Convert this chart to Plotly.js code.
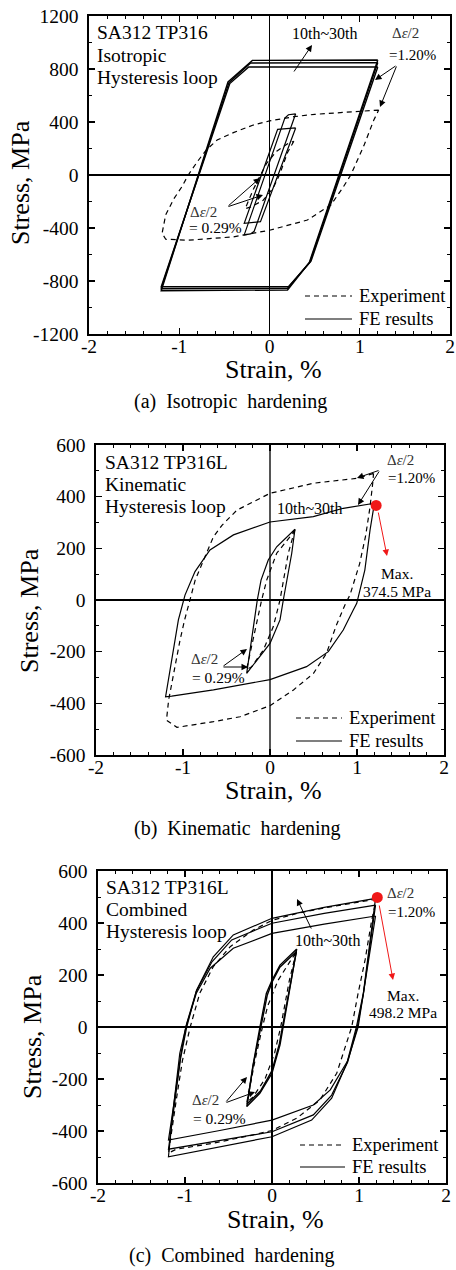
<!DOCTYPE html>
<html><head><meta charset="utf-8">
<script src="https://cdn.plot.ly/plotly-3.0.1.min.js"></script>
<style>html,body{margin:0;padding:0;background:#fff;}#chart{width:456px;height:1270px;}</style>
</head><body><div id="chart"></div>
<script>
// ---------- tick labels ----------
const strainTicks = [-2, -1, 0, 1, 2];
const strainTickText = ['-2', '-1', '0', '1', '2'];
const isoStressTicks = [-1200, -800, -400, 0, 400, 800, 1200];
const isoStressTickText = ['-1200', '-800', '-400', '0', '400', '800', '1200'];
const kinStressTicks = [-600, -400, -200, 0, 200, 400, 600];
const kinStressTickText = ['-600', '-400', '-200', '0', '200', '400', '600'];

// ---------- (a) Isotropic hardening ----------
const isoExpStrain = [1.21, 0.9, 0.5, 0.27, 0, -0.18, -0.4, -0.58, -0.7, -0.8, -0.9, -0.97, -1.06, -1.15, -1.19, -1.15, -0.9, -0.4, 0, 0.42, 0.68, 0.82, 0.9, 1.045, 1.156, 1.21];
const isoExpStress = [490, 478, 458, 440, 408, 377, 320, 264, 190, 100, 0, -88, -180, -300, -440, -485, -492, -467, -417, -340, -226, -88, 0, 220, 415, 490];
const isoExpSmallStrain = [0.27, 0.2, 0.11, 0.04, -0.07, -0.2, -0.27, -0.18, -0.1, -0.03, 0.08, 0.2, 0.27];
const isoExpSmallStress = [255, 170, 0, -100, -190, -240, -255, -110, 0, 90, 180, 235, 255];
const isoFE1Strain = [1.2, 0.46, 0.21, -1.2, -0.44, -0.23, 1.2];
const isoFE1Stress = [815, -650, -843, -843, 690, 815, 815];
const isoFE2Strain = [1.2, 0.45, 0.2, -1.2, -0.45, -0.21, 1.2];
const isoFE2Stress = [848, -655, -855, -858, 696, 845, 848];
const isoFE3Strain = [1.2, 0.44, 0.2, -1.2, -0.46, -0.19, 1.2];
const isoFE3Stress = [868, -662, -868, -873, 702, 865, 868];
const isoFESmall1Strain = [0.29, -0.17, -0.21, -0.28, 0.17, 0.21, 0.29];
const isoFESmall1Stress = [462, -425, -445, -452, 430, 455, 462];
const isoFESmall2Strain = [0.29, -0.1, -0.28, 0.09, 0.29];
const isoFESmall2Stress = [355, -352, -365, 345, 355];

// ---------- (b) Kinematic hardening ----------
const kinExpStrain = [1.19, 1.0, 0.5, 0, -0.38, -0.55, -0.65, -0.75, -0.86, -0.92, -0.98, -1.034, -1.11, -1.165, -1.19, -1.07, -0.65, -0.345, 0, 0.27, 0.5, 0.65, 0.76, 0.86, 0.92, 1.03, 1.1, 1.15, 1.18, 1.19];
const kinExpStress = [490, 471, 452, 413, 348, 290, 245, 168, 77, 0, -75, -155, -284, -387, -465, -493, -471, -452, -409, -348, -284, -206, -100, -20, 20, 140, 250, 361, 450, 490];
const kinExpSmallStrain = [0.287, 0.21, 0.115, 0.038, -0.077, -0.21, -0.27, -0.172, -0.096, -0.038, 0.077, 0.23, 0.287];
const kinExpSmallStress = [273, 181, 0, -103, -194, -258, -270, -116, 0, 77, 181, 245, 273];
const kinFEStrain = [1.2, 0.842, 0.498, 0, -0.42, -0.69, -0.862, -0.977, -1.053, -1.11, -1.2, -1.13, -0.65, 0, 0.42, 0.67, 0.842, 0.957, 0.997, 1.09, 1.15, 1.2];
const kinFEStress = [374.5, 355, 323, 302, 252, 194, 110, 19, -77, -194, -374.5, -372, -348, -308, -258, -200, -116, -39, -13, 116, 271, 374.5];
const kinFESmallStrain = [0.287, 0.25, 0.153, 0.115, 0, -0.153, -0.268, -0.146, -0.103, -0.02, 0.077, 0.287];
const kinFESmallStress = [274, 181, 0, -77, -168, -232, -284, 0, 77, 155, 206, 274];
const kinMaxStrain = [1.22];
const kinMaxStress = [366];

// ---------- (c) Combined hardening ----------
const comExpStrain = [1.2, 0.6, 0.3, 0, -0.215, -0.48, -0.675, -0.83, -0.94, -1.03, -1.1, -1.16, -1.19, -1.1, -0.675, -0.215, 0, 0.284, 0.55, 0.744, 0.85, 0.916, 0.99, 1.07, 1.146, 1.2];
const comExpStress = [492, 458, 438, 410, 373, 309, 232, 130, 0, -130, -280, -420, -485, -470, -447, -415, -398, -351, -281, -178, -70, 0, 130, 258, 411, 492];
const comExpSmallStrain = [0.28, 0.2, 0.1, 0.03, -0.08, -0.22, -0.29, -0.19, -0.11, -0.05, 0.07, 0.22, 0.28];
const comExpSmallStress = [290, 180, 0, -100, -200, -270, -290, -120, 0, 80, 180, 260, 290];
const comFE1Strain = [1.19, 1.13, 1.05, 0.99, 0.87, 0.67, 0.475, 0, -0.6, -1.19, -1.13, -1.05, -0.99, -0.87, -0.71, -0.445, 0, 0.6, 1.19];
const comFE1Stress = [427, 300, 120, 0, -130, -242, -300, -358, -398, -435, -300, -110, 0, 130, 226, 303, 360, 396, 427];
const comFE2Strain = [1.19, 1.13, 1.05, 0.98, 0.87, 0.686, 0.475, 0, -0.6, -1.19, -1.13, -1.05, -0.98, -0.87, -0.69, -0.463, 0, 0.6, 1.19];
const comFE2Stress = [469, 320, 125, 0, -135, -262, -338, -403, -438, -470, -320, -120, 0, 138, 251, 335, 399, 437, 469];
const comFE3Strain = [1.19, 1.13, 1.05, 0.97, 0.86, 0.686, 0.456, 0, -0.6, -1.19, -1.14, -1.06, -0.98, -0.866, -0.675, -0.445, 0, 0.6, 1.19];
const comFE3Stress = [495, 330, 130, 0, -140, -274, -358, -422, -462, -499, -330, -101, 14, 142, 270, 354, 418, 460, 495];
const comFESmall1Strain = [0.284, 0.2, 0.169, 0.13, 0.092, 0, -0.14, -0.29, -0.22, -0.138, -0.1, -0.065, 0, 0.092, 0.284];
const comFESmall1Stress = [300, 142, 85, 0, -69, -178, -255, -306, -150, 0, 65, 129, 180, 238, 300];
const comFESmall2Strain = [0.28, 0.19, 0.16, 0.12, 0.085, 0, -0.13, -0.285, -0.215, -0.13, -0.09, -0.055, 0, 0.09, 0.28];
const comFESmall2Stress = [290, 135, 80, 0, -64, -168, -245, -296, -145, 0, 62, 122, 172, 230, 290];
const comMaxStrain = [1.21];
const comMaxStress = [498.2];

// ---------- build ----------
const F = '"Liberation Serif", "Times New Roman", serif';
const W = 456, H = 1270;
const px = v => v / W, py = v => 1 - v / H;
const DASH = '5px,4px';

function line(x, y, n, dash, w) {
  return {x, y, xaxis: 'x' + n, yaxis: 'y' + n, type: 'scatter', mode: 'lines',
    line: {color: '#000', width: w || 1.2, dash: dash ? DASH : 'solid'}, hoverinfo: 'skip', showlegend: false};
}
function dot(x, y, n) {
  return {x, y, xaxis: 'x' + n, yaxis: 'y' + n, type: 'scatter', mode: 'markers',
    marker: {color: '#f01818', size: 11}, hoverinfo: 'skip', showlegend: false};
}
const traces = [
  line(isoExpStrain, isoExpStress, '', true),
  line(isoExpSmallStrain, isoExpSmallStress, '', true),
  line(isoFE1Strain, isoFE1Stress, '', false, 1.4),
  line(isoFE2Strain, isoFE2Stress, '', false, 1.4),
  line(isoFE3Strain, isoFE3Stress, '', false, 1.4),
  line(isoFESmall1Strain, isoFESmall1Stress, '', false),
  line(isoFESmall2Strain, isoFESmall2Stress, '', false),
  line(kinExpStrain, kinExpStress, '2', true),
  line(kinExpSmallStrain, kinExpSmallStress, '2', true),
  line(kinFEStrain, kinFEStress, '2', false),
  line(kinFESmallStrain, kinFESmallStress, '2', false),
  dot(kinMaxStrain, kinMaxStress, '2'),
  line(comExpStrain, comExpStress, '3', true),
  line(comExpSmallStrain, comExpSmallStress, '3', true),
  line(comFE1Strain, comFE1Stress, '3', false),
  line(comFE2Strain, comFE2Stress, '3', false),
  line(comFE3Strain, comFE3Stress, '3', false),
  line(comFESmall1Strain, comFESmall1Stress, '3', false, 1.4),
  line(comFESmall2Strain, comFESmall2Stress, '3', false, 1.4),
  dot(comMaxStrain, comMaxStress, '3')
];

function xAxis(l, r, anchor) {
  return {domain: [px(l), px(r)], anchor, range: [-2, 2], tickmode: 'array', tickvals: strainTicks, ticktext: strainTickText,
    ticks: 'inside', ticklen: 6, tickwidth: 1.2, tickcolor: '#000',
    minor: {tickmode: 'linear', tick0: 0, dtick: 0.2, ticks: 'inside', ticklen: 3, tickwidth: 1, tickcolor: '#000'},
    mirror: 'ticks', showline: true, linewidth: 1.6, linecolor: '#000', showgrid: false,
    zeroline: true, zerolinecolor: '#000', zerolinewidth: 1.2, ticklabelstandoff: -6,
    tickfont: {family: F, size: 19.5, color: '#000'}, fixedrange: true};
}
function yAxis(t, b, anchor, rng, tv, tt, minor, zc) {
  return {domain: [py(b), py(t)], anchor, range: rng, tickmode: 'array', tickvals: tv, ticktext: tt,
    ticks: 'inside', ticklen: 6, tickwidth: 1.2, tickcolor: '#000',
    minor: {tickmode: 'linear', tick0: 0, dtick: minor, ticks: 'inside', ticklen: 3, tickwidth: 1, tickcolor: '#000'},
    mirror: 'ticks', showline: true, linewidth: 1.6, linecolor: '#000', showgrid: false,
    zeroline: true, zerolinecolor: '#000', zerolinewidth: 1.2, ticklabelstandoff: 5,
    tickfont: {family: F, size: 19.5, color: '#000'}, fixedrange: true};
}

const ann = [];
function T(text, x, y, size, anchor, extra) {
  ann.push(Object.assign({xref: 'paper', yref: 'paper', x: px(x), y: py(y), text, showarrow: false,
    xanchor: anchor || 'center', yanchor: 'middle', font: {family: F, size, color: '#000'}}, extra || {}));
}
function A(tx, ty, hx, hy, color) {
  ann.push({xref: 'paper', yref: 'paper', x: px(hx), y: py(hy), ax: tx - hx, ay: ty - hy, text: '',
    showarrow: true, arrowhead: 2, arrowsize: 1.3, arrowwidth: 1, arrowcolor: color || '#000'});
}
const shapes = [];
function legendRow(x0, x1, y, dash, label) {
  shapes.push({type: 'line', xref: 'paper', yref: 'paper', x0: px(x0), x1: px(x1), y0: py(y), y1: py(y),
    line: {color: '#000', width: 1.2, dash: dash ? DASH : 'solid'}});
  T(label, x1 + 5, y, 18.5, 'left');
}
const DE = 'Δ<i>ε</i>/2';
const grey = {family: F, size: 15, color: '#333'};

// (a)
T('SA312 TP316', 95, 32, 19.5, 'left');
T('Isotropic', 95, 55, 19.5, 'left');
T('Hysteresis loop', 95, 78, 19.5, 'left');
T('10th~30th', 325, 33, 16);
T(DE, 405, 33, 15, 'center', {font: grey});
T('=1.20%', 412, 55, 15);
T(DE, 203, 212, 15, 'center', {font: grey});
T('= 0.29%', 215, 228, 15.5);
A(293, 73, 312, 45);
A(397, 65, 375, 80);
A(397, 65, 380, 107);
A(227, 207, 260, 178);
A(227, 207, 263, 195);
legendRow(305, 352, 296, true, 'Experiment');
legendRow(305, 352, 319, false, 'FE results');
T('Stress, MPa', 20, 183, 26, 'center', {textangle: -90});
T('Strain, %', 273, 370, 26);
T('(a)  Isotropic  hardening', 230, 402, 20);

// (b)
T('SA312 TP316L', 103, 462, 19.5, 'left');
T('Kinematic', 103, 484, 19.5, 'left');
T('Hysteresis loop', 103, 506, 19.5, 'left');
T('10th~30th', 310, 508, 16);
T(DE, 400, 460, 15, 'center', {font: grey});
T('=1.20%', 411, 478, 15);
T('Max.', 397, 574, 15.5);
T('374.5 MPa', 397, 591, 15.5);
T(DE, 204, 659, 15, 'center', {font: grey});
T('= 0.29%', 218, 677, 15.5);
A(380, 470, 357, 478);
A(380, 470, 358, 505);
A(378, 511, 387, 556, '#f01818');
A(222, 667, 247, 649);
A(222, 667, 248, 667);
legendRow(296, 342, 718, true, 'Experiment');
legendRow(296, 342, 741, false, 'FE results');
T('Stress, MPa', 30, 611, 26, 'center', {textangle: -90});
T('Strain, %', 273, 790, 26);
T('(b)  Kinematic  hardening', 237, 828, 20);

// (c)
T('SA312 TP316L', 104, 887, 19.5, 'left');
T('Combined', 104, 909, 19.5, 'left');
T('Hysteresis loop', 104, 931, 19.5, 'left');
T('10th~30th', 328, 940, 16);
T(DE, 400, 893, 15, 'center', {font: grey});
T('=1.20%', 411, 912, 15);
T('Max.', 403, 995, 15.5);
T('498.2 MPa', 403, 1012, 15.5);
T(DE, 205, 1100, 15, 'center', {font: grey});
T('= 0.29%', 219, 1118, 15.5);
A(312, 930, 297, 899);
A(379, 904, 393, 980, '#f01818');
A(225, 1103, 247, 1077);
A(225, 1103, 255, 1092);
legendRow(300, 345, 1145, true, 'Experiment');
legendRow(300, 345, 1167, false, 'FE results');
T('Stress, MPa', 32, 1037, 26, 'center', {textangle: -90});
T('Strain, %', 275, 1219, 26);
T('(c)  Combined  hardening', 232, 1255, 20);

const layout = {
  width: W, height: H, margin: {l: 0, r: 0, t: 0, b: 0}, paper_bgcolor: '#fff', plot_bgcolor: '#fff',
  showlegend: false, font: {family: F, color: '#000'},
  xaxis: xAxis(89, 450, 'y'),
  yaxis: yAxis(16, 334, 'x', [-1200, 1200], isoStressTicks, isoStressTickText, 200),
  xaxis2: Object.assign(xAxis(96, 444, 'y2'), {zerolinecolor: '#555'}),
  yaxis2: yAxis(445, 755, 'x2', [-600, 600], kinStressTicks, kinStressTickText, 100),
  xaxis3: xAxis(98, 446, 'y3'),
  yaxis3: yAxis(871, 1183, 'x3', [-600, 600], kinStressTicks, kinStressTickText, 100),
  annotations: ann, shapes
};
Plotly.newPlot('chart', traces, layout, {staticPlot: true, displayModeBar: false});
</script></body></html>
